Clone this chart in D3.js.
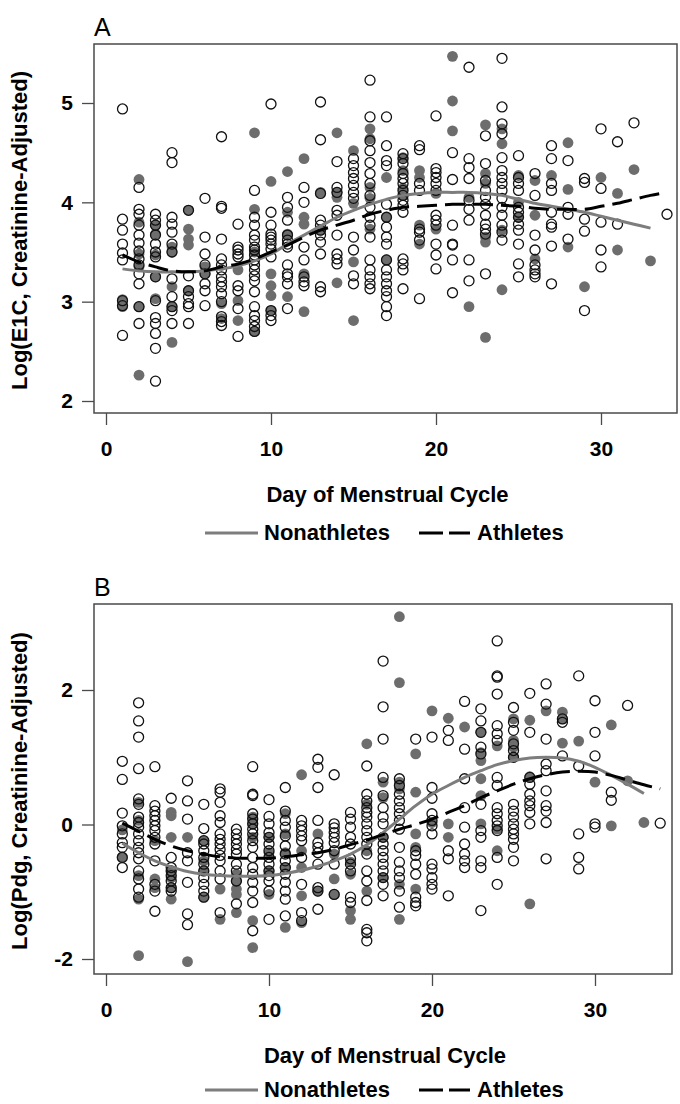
<!DOCTYPE html>
<html>
<head>
<meta charset="utf-8">
<script src="https://cdn.jsdelivr.net/npm/d3@7"></script>
<style>
  body { margin: 0; background: #fff; }
  svg { display: block; font-family: "Liberation Sans", Arial, Helvetica, sans-serif; }
</style>
</head>
<body>
<div class="vis-holder"></div>
<script>
// ---- data: [day, [values...]] ----
var xTicks = [0, 10, 20, 30];
var e1cTicks = [2, 3, 4, 5];
var pdgTicks = [-2, 0, 2];

// panel A, log(E1C) -- nonathletes (open circles)
var e1cNonathletes = [
  [1, [4.94, 3.83, 3.72, 3.58, 3.49, 3.42, 3.01, 2.96, 2.66]],
  [2, [4.15, 3.93, 3.88, 3.77, 3.67, 3.59, 3.51, 3.43, 3.37, 3.28, 3.18, 2.95, 2.78]],
  [3, [3.88, 3.82, 3.77, 3.67, 3.58, 3.50, 3.45, 3.25, 3.01, 2.84, 2.78, 2.68, 2.53, 2.20]],
  [4, [4.50, 4.40, 3.85, 3.78, 3.70, 3.58, 3.50, 3.23, 3.05, 2.95, 2.91, 2.78]],
  [5, [3.92, 3.26, 3.11, 3.05, 2.98, 2.95, 2.78]],
  [6, [4.04, 3.65, 3.48, 3.37, 3.28, 3.18, 3.11, 2.96]],
  [7, [4.66, 3.96, 3.94, 3.63, 3.43, 3.37, 3.32, 3.25, 3.20, 3.15, 3.08, 3.00, 2.85, 2.80, 2.76]],
  [8, [3.78, 3.55, 3.52, 3.48, 3.45, 3.16, 3.11, 2.93, 2.65]],
  [9, [4.12, 3.85, 3.77, 3.67, 3.62, 3.55, 3.52, 3.47, 3.42, 3.37, 3.32, 3.26, 3.21, 3.10, 2.95, 2.86, 2.81, 2.75, 2.70]],
  [10, [4.99, 3.90, 3.77, 3.68, 3.65, 3.62, 3.58, 3.53, 3.45, 2.91, 2.86, 2.81]],
  [11, [4.05, 3.95, 3.82, 3.67, 3.62, 3.58, 3.55, 3.37, 3.28, 3.25, 3.18, 2.93]],
  [12, [4.15, 4.00, 3.55, 3.42, 3.25, 3.20, 3.16]],
  [13, [5.01, 4.63, 4.09, 3.82, 3.77, 3.72, 3.67, 3.60, 3.48, 3.15, 3.10]],
  [14, [4.41, 4.15, 4.10, 3.92, 3.87, 3.67, 3.48, 3.43, 3.38]],
  [15, [4.44, 4.37, 4.30, 4.24, 4.17, 4.10, 4.04, 3.65, 3.52, 3.26, 3.18]],
  [16, [5.23, 4.86, 4.62, 4.52, 4.40, 4.29, 4.19, 4.07, 3.95, 3.85, 3.77, 3.65, 3.42, 3.32, 3.25, 3.18, 3.13]],
  [17, [4.86, 4.57, 4.42, 4.37, 3.98, 3.85, 3.75, 3.65, 3.58, 3.42, 3.32, 3.25, 3.18, 3.11, 3.05, 2.95, 2.86]],
  [18, [4.49, 4.44, 4.39, 4.29, 4.24, 4.19, 4.12, 4.07, 4.02, 3.97, 3.90, 3.43, 3.38, 3.32, 3.13]],
  [19, [4.57, 4.53, 4.19, 4.12, 3.73, 3.70, 3.62, 3.03]],
  [20, [4.87, 4.34, 4.30, 4.25, 4.19, 4.12, 3.87, 3.82, 3.77, 3.58, 3.47, 3.33]],
  [21, [4.50, 4.23, 3.77, 3.58, 3.57, 3.42, 3.09]],
  [22, [5.36, 4.44, 4.35, 4.24, 4.02, 3.93, 3.82, 3.42, 3.21]],
  [23, [4.67, 4.39, 4.22, 4.12, 4.05, 3.98, 3.87, 3.78, 3.73, 3.68, 3.28]],
  [24, [5.45, 4.96, 4.79, 4.69, 4.45, 4.32, 4.25, 4.19, 4.12, 4.04, 3.95, 3.87, 3.77, 3.70, 3.62]],
  [25, [4.47, 4.25, 4.19, 4.12, 3.95, 3.90, 3.85, 3.78, 3.72, 3.58, 3.38, 3.25]],
  [26, [4.29, 4.07, 3.67, 3.52, 3.37, 3.32, 3.28, 3.25]],
  [27, [4.57, 4.44, 4.19, 4.12, 3.90, 3.78, 3.75, 3.56, 3.18]],
  [28, [4.42, 3.95, 3.88, 3.63]],
  [29, [4.24, 4.20, 3.83, 3.71, 2.91]],
  [30, [4.74, 4.14, 3.80, 3.52, 3.35]],
  [31, [4.61, 3.78]],
  [32, [4.80]],
  [34, [3.88]]
];

// panel A, log(E1C) -- athletes (filled circles)
var e1cAthletes = [
  [1, [3.02, 2.95]],
  [2, [4.23, 3.80, 3.48, 3.35, 2.95, 2.26]],
  [3, [3.77, 3.68, 3.47, 3.25, 3.03]],
  [4, [3.55, 3.50, 3.15, 2.95, 2.59]],
  [5, [3.92, 3.73, 3.63, 3.57, 3.11]],
  [6, [3.35, 3.28]],
  [7, [2.98, 2.83]],
  [8, [3.32, 3.01, 2.81]],
  [9, [4.70, 3.93, 3.50, 2.70]],
  [10, [4.21, 3.28, 3.16, 3.06, 2.91]],
  [11, [4.31, 3.90, 3.68, 3.05]],
  [12, [4.44, 3.85, 3.78, 3.28, 2.90]],
  [13, [4.10, 3.72]],
  [14, [4.70, 4.10, 4.05, 3.19]],
  [15, [4.52, 3.99, 3.40, 2.81]],
  [16, [4.74, 4.64, 4.15, 4.04, 3.73]],
  [17, [4.25, 3.85, 3.42]],
  [18, [4.45, 4.32, 4.14, 4.07]],
  [19, [4.32, 4.25, 3.77, 3.58]],
  [20, [4.09, 3.73]],
  [21, [5.47, 5.02, 4.72]],
  [22, [4.05, 2.95]],
  [23, [4.78, 4.29, 4.19, 3.65, 3.60, 2.64]],
  [24, [4.74, 4.59, 3.72, 3.12]],
  [25, [4.27, 4.00, 3.85]],
  [26, [4.22, 3.87, 3.43]],
  [27, [4.27]],
  [28, [4.60, 4.13, 3.55]],
  [29, [3.15]],
  [30, [4.25]],
  [31, [4.09, 3.52]],
  [32, [4.33]],
  [33, [3.41]]
];

// panel A smoothed curves [day, value]
var e1cNonTrend = [[1, 3.33], [2, 3.31], [3, 3.30], [4, 3.30], [5, 3.30], [6, 3.31], [7, 3.33], [8, 3.36],
  [9, 3.41], [10, 3.48], [11, 3.58], [12, 3.67], [13, 3.76], [14, 3.85], [15, 3.92], [16, 3.98], [17, 4.03],
  [18, 4.07], [19, 4.09], [20, 4.10], [21, 4.10], [22, 4.10], [23, 4.09], [24, 4.07], [25, 4.03], [26, 3.99],
  [27, 3.96], [28, 3.93], [29, 3.90], [30, 3.86], [31, 3.82], [32, 3.78], [33, 3.74]];
var e1cAthTrend = [[1, 3.47], [2, 3.40], [3, 3.35], [4, 3.31], [5, 3.30], [6, 3.31], [7, 3.35], [8, 3.38],
  [9, 3.43], [10, 3.50], [11, 3.57], [12, 3.65], [13, 3.72], [14, 3.77], [15, 3.82], [16, 3.88], [17, 3.92],
  [18, 3.95], [19, 3.96], [20, 3.97], [21, 3.98], [22, 3.98], [23, 3.98], [24, 3.97], [25, 3.96], [26, 3.94],
  [27, 3.93], [28, 3.93], [29, 3.93], [30, 3.96], [31, 3.99], [32, 4.03], [33, 4.07], [34, 4.10]];

// panel B, log(Pdg) -- nonathletes (open circles)
var pdgNonathletes = [
  [1, [0.94, 0.67, 0.17, -0.02, -0.14, -0.27, -0.34, -0.49, -0.64]],
  [2, [1.81, 1.54, 1.30, 0.83, 0.38, 0.30, 0.11, 0.03, -0.04, -0.14, -0.24, -0.34, -0.42, -0.51, -0.69, -0.81, -0.96, -1.08]],
  [3, [0.86, 0.28, 0.20, 0.13, 0.06, -0.02, -0.09, -0.19, -0.29, -0.54, -0.89, -0.99, -1.29]],
  [4, [0.39, -0.49, -0.64, -0.69, -0.76, -0.84, -0.94, -0.99]],
  [5, [0.65, 0.35, 0.08, -0.42, -0.54, -0.86, -1.33, -1.49]],
  [6, [0.30, -0.06, -0.24, -0.29, -0.39, -0.49, -0.59, -0.69, -0.79, -0.89, -0.99, -1.08]],
  [7, [0.53, 0.48, 0.33, 0.13, 0.03, -0.14, -0.22, -0.29, -0.37, -0.46, -0.54, -0.69, -0.81, -1.31]],
  [8, [-0.07, -0.14, -0.22, -0.29, -0.37, -0.44, -0.59, -0.69, -0.84, -1.18]],
  [9, [0.86, 0.45, 0.43, 0.16, 0.08, 0.01, -0.07, -0.14, -0.24, -0.34, -0.49, -0.64, -0.74, -0.86, -0.99, -1.16, -1.58]],
  [10, [0.37, 0.12, 0.01, -0.12, -0.19, -0.29, -0.39, -0.49, -0.59, -0.69, -0.76, -0.84, -0.99, -1.41]],
  [11, [0.55, 0.20, 0.06, -0.04, -0.17, -0.32, -0.44, -0.54, -0.64, -0.74, -0.86, -0.99, -1.11, -1.36]],
  [12, [0.06, -0.02, -0.09, -0.17, -0.24, -0.49, -0.89, -1.31, -1.43]],
  [13, [0.97, 0.85, 0.55, 0.06, -0.27, -0.34, -0.42, -0.59, -0.94, -0.99, -1.26]],
  [14, [0.74, 0.01, -0.05, -0.12, -0.19, -0.27, -0.39, -0.59, -1.04]],
  [15, [0.18, 0.08, -0.04, -0.19, -0.29, -0.51, -0.59, -0.69, -1.08, -1.16]],
  [16, [0.87, 0.45, 0.35, 0.25, 0.18, 0.11, 0.01, -0.09, -0.19, -0.29, -0.44, -0.69, -0.84, -1.13, -1.56, -1.61, -1.73]],
  [17, [2.43, 1.75, 1.27, 0.70, 0.43, 0.25, 0.11, 0.01, -0.19, -0.29, -0.39, -0.49, -0.59, -0.69, -0.79, -0.89, -1.06]],
  [18, [0.68, 0.58, 0.45, 0.35, 0.25, 0.16, 0.06, -0.07, -0.34, -0.56, -0.69, -0.79, -0.99, -1.23]],
  [19, [1.27, -0.39, -0.46, -0.59, -0.74, -1.08, -1.16, -1.21]],
  [20, [1.30, 0.55, 0.39, 0.16, 0.06, -0.02, -0.14, -0.59, -0.66, -0.79, -0.89, -0.96]],
  [21, [1.40, 1.25, -0.39, -0.51, -1.06]],
  [22, [1.83, 1.12, 0.68, 0.25, -0.04, -0.29, -0.44, -0.54, -0.64]],
  [23, [1.72, 1.54, 1.37, 1.15, 1.05, 0.30, -0.09, -0.19, -0.54, -0.64, -1.28]],
  [24, [2.73, 2.21, 2.19, 1.94, 1.47, 1.35, 1.25, 0.70, 0.58, 0.25, 0.16, 0.06, -0.02, -0.09, -0.49, -0.89]],
  [25, [1.74, 1.52, 1.40, 1.20, 1.10, 1.00, 0.30, 0.20, 0.11, 0.01, -0.07, -0.14, -0.22, -0.34, -0.54]],
  [26, [1.95, 1.37, 0.70, 0.60, 0.45, 0.35, 0.28, 0.18, 0.01]],
  [27, [2.09, 1.79, 1.27, 0.90, 0.80, 0.50, 0.28, 0.20, 0.03, -0.51]],
  [28, [1.57, 1.52, 1.02]],
  [29, [2.21, 0.87, -0.14, -0.49, -0.66]],
  [30, [1.84, 1.37, 1.02, 0.01, -0.04]],
  [31, [0.48, 0.36]],
  [32, [1.77]],
  [34, [0.02]]
];

// panel B, log(Pdg) -- athletes (filled circles)
var pdgAthletes = [
  [1, [-0.08, -0.48]],
  [2, [0.33, 0.06, -0.76, -1.11, -1.95]],
  [3, [-0.24, -0.81, -0.94]],
  [4, [0.18, 0.13, -0.19, -0.69, -0.79, -0.94, -1.11]],
  [5, [-0.19, -2.04]],
  [6, [-0.24, -0.54, -0.69, -1.08]],
  [7, [-0.96, -1.41]],
  [8, [-0.74, -0.84, -0.96, -1.04, -1.31]],
  [9, [0.11, 0.01, -0.19, -1.43, -1.83]],
  [10, [-0.19, -0.42, -0.69, -1.04]],
  [11, [0.16, -0.14, -0.42, -0.64, -1.53]],
  [12, [0.74, -0.39, -0.64, -1.06, -1.46]],
  [13, [-0.14, -0.99]],
  [14, [-0.44, -0.81, -1.04]],
  [15, [-0.56, -0.74, -1.28, -1.41]],
  [16, [1.20, 0.30, -0.39, -0.99]],
  [17, [0.63, 0.40, -0.19, -0.79]],
  [18, [3.09, 2.11, 0.63, 0.53, -0.89, -1.41]],
  [19, [1.05, 0.48, -0.14, -0.34, -0.96]],
  [20, [1.69, 0.03]],
  [21, [1.58, 0.01, -0.19]],
  [22, [1.45]],
  [23, [1.37, 1.07, 0.95, 0.68, 0.43, 0.01]],
  [24, [1.17, -0.07, -0.39]],
  [25, [1.57, 1.25, 1.15, 1.00]],
  [26, [1.55, 0.71, -1.18]],
  [27, [1.69]],
  [28, [1.67, 1.57, 1.21]],
  [29, [1.24]],
  [30, [0.63]],
  [31, [1.48, -0.02]],
  [32, [0.65]],
  [33, [0.03]]
];

// panel B smoothed curves [day, value]
var pdgNonTrend = [[1, -0.28], [2, -0.42], [3, -0.54], [4, -0.63], [5, -0.70], [6, -0.74], [7, -0.76], [8, -0.77],
  [9, -0.77], [10, -0.76], [11, -0.73], [12, -0.68], [13, -0.62], [14, -0.54], [15, -0.44], [16, -0.30], [17, -0.12],
  [18, 0.08], [19, 0.28], [20, 0.45], [21, 0.58], [22, 0.70], [23, 0.80], [24, 0.89], [25, 0.95], [26, 0.99],
  [27, 1.00], [28, 0.99], [29, 0.94], [30, 0.85], [31, 0.73], [32, 0.60], [33, 0.46]];
var pdgAthTrend = [[1, 0.02], [2, -0.10], [3, -0.22], [4, -0.32], [5, -0.39], [6, -0.44], [7, -0.48], [8, -0.50],
  [9, -0.50], [10, -0.50], [11, -0.48], [12, -0.45], [13, -0.42], [14, -0.37], [15, -0.30], [16, -0.23], [17, -0.15],
  [18, -0.07], [19, 0.00], [20, 0.08], [21, 0.18], [22, 0.28], [23, 0.40], [24, 0.50], [25, 0.60], [26, 0.68],
  [27, 0.74], [28, 0.78], [29, 0.79], [30, 0.78], [31, 0.73], [32, 0.66], [33, 0.59], [34, 0.53]];

// ---- drawing ----
var width = 680;
var height = 1104;

var svg = d3.select(".vis-holder")
            .append("svg")
            .attr("width", width)
            .attr("height", height);

// flatten [day, [values]] into points
function flatten(cols) {
  var out = [];
  cols.forEach(function(c) {
    c[1].forEach(function(v) { out.push({ day: c[0], v: v }); });
  });
  return out;
}

// plain integer labels with an ascii hyphen for negatives
function tickFmt(d) { return String(d); }

function drawPanel(p) {
  var box = p.box;
  var g = svg.append("g");

  var xScale = d3.scaleLinear().domain([0, 30]).range(p.xRange);
  var yScale = d3.scaleLinear().domain(p.yDomain).range(p.yRange);

  // athletes: filled gray
  g.append("g")
   .selectAll("circle")
   .data(flatten(p.athletes))
   .enter()
   .append("circle")
   .attr("cx", function(d) { return xScale(d.day); })
   .attr("cy", function(d) { return yScale(d.v); })
   .attr("r", 5.4)
   .attr("fill", "#6d6d6d");

  // nonathletes: open circles
  g.append("g")
   .selectAll("circle")
   .data(flatten(p.nonathletes))
   .enter()
   .append("circle")
   .attr("cx", function(d) { return xScale(d.day); })
   .attr("cy", function(d) { return yScale(d.v); })
   .attr("r", 5)
   .attr("fill", "none")
   .attr("stroke", "#111")
   .attr("stroke-width", 1.3);

  var line = d3.line()
               .curve(d3.curveCatmullRom)
               .x(function(d) { return xScale(d[0]); })
               .y(function(d) { return yScale(d[1]); });

  g.append("path")
   .attr("d", line(p.nonTrend))
   .attr("fill", "none")
   .attr("stroke", "#7d7d7d")
   .attr("stroke-width", 3);

  g.append("path")
   .attr("d", line(p.athTrend))
   .attr("fill", "none")
   .attr("stroke", "#000")
   .attr("stroke-width", 3)
   .attr("stroke-dasharray", "20,8");

  // frame
  g.append("rect")
   .attr("x", box.left)
   .attr("y", box.top)
   .attr("width", box.right - box.left)
   .attr("height", box.bottom - box.top)
   .attr("fill", "none")
   .attr("stroke", "#4a4a4a")
   .attr("stroke-width", 1.5);

  // x axis
  var xAxis = g.append("g")
               .attr("transform", "translate(0," + box.bottom + ")")
               .call(d3.axisBottom(xScale).tickValues(xTicks).tickFormat(tickFmt)
                       .tickSize(12).tickPadding(16).tickSizeOuter(0));
  // y axis
  var yAxis = g.append("g")
               .attr("transform", "translate(" + box.left + ",0)")
               .call(d3.axisLeft(yScale).tickValues(p.yTicks).tickFormat(tickFmt)
                       .tickSize(12).tickPadding(9).tickSizeOuter(0));

  [xAxis, yAxis].forEach(function(a) {
    a.select(".domain").remove();
    a.selectAll(".tick line").attr("stroke", "#4a4a4a").attr("stroke-width", 1.3);
    a.selectAll(".tick text")
     .attr("fill", "#000")
     .style("font-family", "'Liberation Sans', Arial, sans-serif")
     .style("font-size", "21px")
     .style("font-weight", "bold");
  });

  // panel letter
  g.append("text")
   .attr("x", box.left)
   .attr("y", box.top - 8)
   .style("font-size", "25px")
   .text(p.letter);

  // y axis title
  g.append("text")
   .attr("text-anchor", "middle")
   .attr("transform", "translate(27," + ((box.top + box.bottom) / 2 + 2) + ")rotate(-90)")
   .style("font-size", "22px")
   .style("font-weight", "bold")
   .text(p.yTitle);

  // x axis title
  g.append("text")
   .attr("text-anchor", "middle")
   .attr("x", (box.left + box.right) / 2 + 2)
   .attr("y", box.bottom + 89)
   .style("font-size", "22px")
   .style("font-weight", "bold")
   .text("Day of Menstrual Cycle");

  // legend
  var ly = box.bottom + p.legendOffset;
  g.append("line")
   .attr("x1", 205).attr("x2", 258)
   .attr("y1", ly).attr("y2", ly)
   .attr("stroke", "#7d7d7d")
   .attr("stroke-width", 3);
  g.append("text")
   .attr("x", 264)
   .attr("y", ly + 7)
   .style("font-size", "22px")
   .style("font-weight", "bold")
   .text("Nonathletes");
  g.append("line")
   .attr("x1", 419).attr("x2", 470)
   .attr("y1", ly).attr("y2", ly)
   .attr("stroke", "#000")
   .attr("stroke-width", 3)
   .attr("stroke-dasharray", "24,6");
  g.append("text")
   .attr("x", 477)
   .attr("y", ly + 7)
   .style("font-size", "22px")
   .style("font-weight", "bold")
   .text("Athletes");
}

drawPanel({
  letter: "A",
  box: { left: 94, right: 677, top: 44, bottom: 413 },
  xRange: [106, 601],
  yDomain: [2, 5],
  yRange: [401, 103],
  yTicks: e1cTicks,
  yTitle: "Log(E1C, Creatinine-Adjusted)",
  legendOffset: 120,
  nonathletes: e1cNonathletes,
  athletes: e1cAthletes,
  nonTrend: e1cNonTrend,
  athTrend: e1cAthTrend
});

drawPanel({
  letter: "B",
  box: { left: 94, right: 672, top: 604, bottom: 974 },
  xRange: [106, 595],
  yDomain: [-2, 2],
  yRange: [959, 690],
  yTicks: pdgTicks,
  yTitle: "Log(Pdg, Creatinine-Adjusted)",
  legendOffset: 116,
  nonathletes: pdgNonathletes,
  athletes: pdgAthletes,
  nonTrend: pdgNonTrend,
  athTrend: pdgAthTrend
});
</script>
</body>
</html>
